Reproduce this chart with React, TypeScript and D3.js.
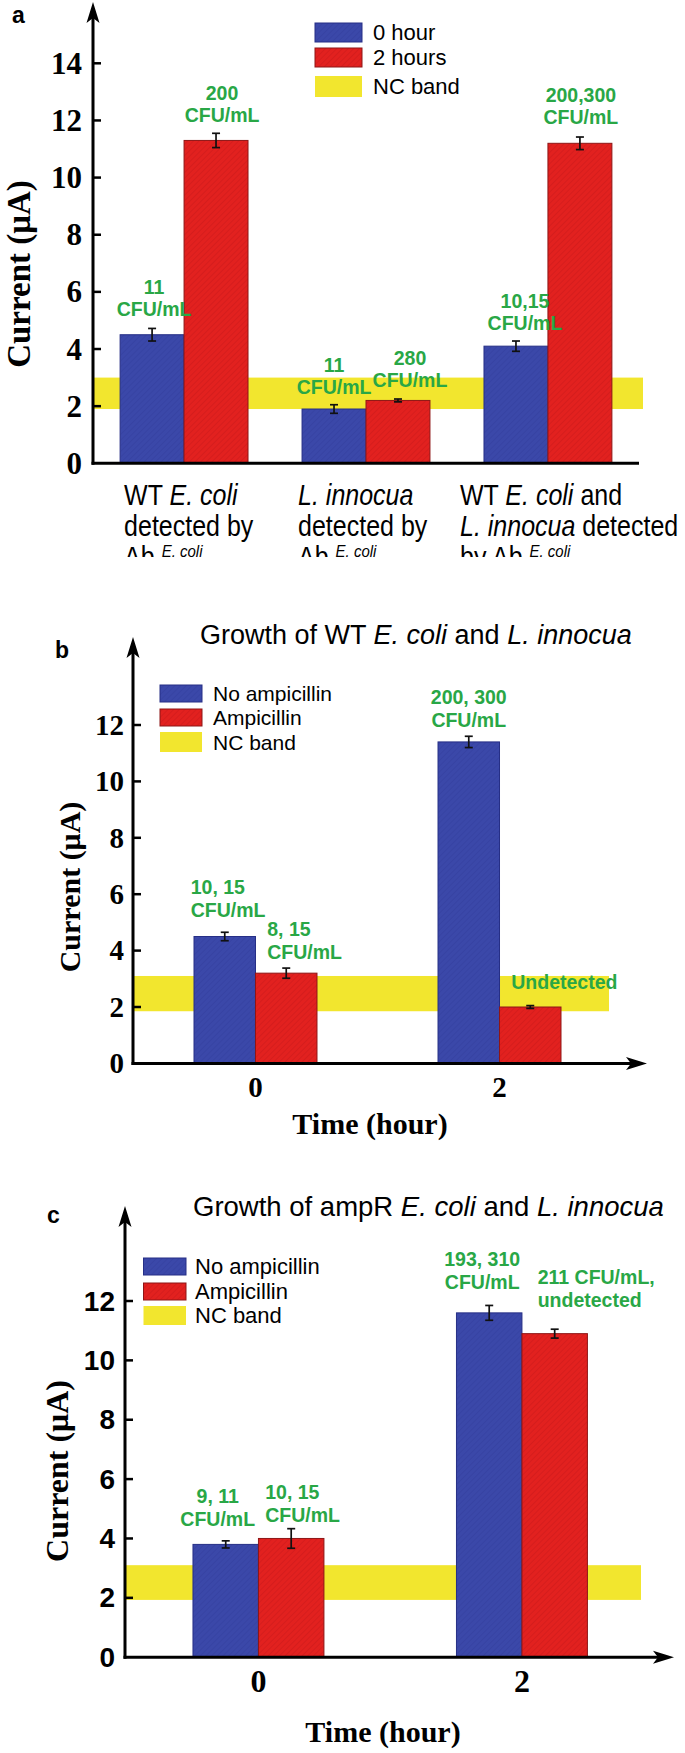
import React from "react";
import * as d3 from "d3";

const SANS = "Arial, 'Liberation Sans', Helvetica, sans-serif";
const SERIF = "'Times New Roman', 'Liberation Serif', Times, serif";
const GREEN = "#29a746";
const BLUE = "#3b48a9";
const RED = "#e2211f";
const YELLOW = "#f2e62e";

// ---- panel a : detection by Ab E. coli
const groupsA = ["WT E. coli", "L. innocua", "WT E. coli + L. innocua"];
const hour0 = [4.5, 1.9, 4.1];
const hour0Err = [0.22, 0.15, 0.18];
const hour2 = [11.3, 2.2, 11.2];
const hour2Err = [0.25, 0.05, 0.22];
const hour0Cfu = [["11", "CFU/mL"], ["11", "CFU/mL"], ["10,15", "CFU/mL"]];
const hour2Cfu = [["200", "CFU/mL"], ["280", "CFU/mL"], ["200,300", "CFU/mL"]];
const ncBandA = [1.9, 3.0];
const ticksA = [0, 2, 4, 6, 8, 10, 12, 14];
const legendA = ["0 hour", "2 hours", "NC band"];

// ---- panel b : WT E. coli + L. innocua growth
const timesB = ["0", "2"];
const noAmpB = [4.5, 11.4];
const noAmpErrB = [0.15, 0.2];
const ampB = [3.2, 2.0];
const ampErrB = [0.18, 0.05];
const noAmpCfuB = [["10, 15", "CFU/mL"], ["200, 300", "CFU/mL"]];
const ampCfuB = [["8, 15", "CFU/mL"], ["Undetected"]];
const ncBandB = [1.85, 3.1];

// ---- panel c : ampR E. coli + L. innocua growth
const timesC = ["0", "2"];
const noAmpC = [3.8, 11.6];
const noAmpErrC = [0.12, 0.25];
const ampC = [4.0, 10.9];
const ampErrC = [0.33, 0.15];
const noAmpCfuC = [["9, 11", "CFU/mL"], ["193, 310", "CFU/mL"]];
const ampCfuC = [["10, 15", "CFU/mL"], ["211 CFU/mL,", "undetected"]];
const ncBandC = [1.93, 3.1];

const ticksBC = [0, 2, 4, 6, 8, 10, 12];
const legendBC = ["No ampicillin", "Ampicillin", "NC band"];

type Seg = { t: string; i?: boolean; sup?: boolean };
type LabelPos = { anchor: "start" | "middle"; dx: number; lift: number };
type Series = { values: number[]; errs: number[]; fill: string; stroke: string; cfu: string[][]; pos: LabelPos[] };

const catLinesA: Seg[][][] = [
  [[{ t: "WT " }, { t: "E. coli", i: true }], [{ t: "detected by" }], [{ t: "Ab " }, { t: "E. coli", i: true, sup: true }]],
  [[{ t: "L. innocua", i: true }], [{ t: "detected by" }], [{ t: "Ab " }, { t: "E. coli", i: true, sup: true }]],
  [
    [{ t: "WT " }, { t: "E. coli", i: true }, { t: " and" }],
    [{ t: "L. innocua", i: true }, { t: " detected" }],
    [{ t: "by Ab " }, { t: "E. coli", i: true, sup: true }],
  ],
];

const segs = (list: Seg[]) =>
  list.map((s, k) => (
    <tspan key={k} fontStyle={s.i ? "italic" : undefined} fontSize={s.sup ? 15 : undefined} dy={s.sup ? -9 : undefined}>
      {s.t}
    </tspan>
  ));

const upArrow = (x: number, tip: number) => `M${x},${tip} L${x + 6.5},${tip + 21} L${x},${tip + 16} L${x - 6.5},${tip + 21} Z`;
const rightArrow = (tip: number, y: number) => `M${tip},${y} L${tip - 21},${y - 6.5} L${tip - 16},${y} L${tip - 21},${y + 6.5} Z`;

function Panel(p: any) {
  const y = d3.scaleLinear().domain([0, p.yMax]).range([p.y0, p.yTopPx]);
  const x = d3.scaleBand().domain(p.groups).range(p.xRange).paddingInner(p.padIn).paddingOuter(p.padOut);
  const xs = d3
    .scaleBand()
    .domain(p.series.map((s: Series, i: number) => String(i)))
    .range([0, x.bandwidth()]);
  const bw = xs.bandwidth();
  const lg = p.legend;

  return (
    <g>
      {/* NC band */}
      <rect x={p.axisX} y={y(p.nc[1])} width={p.ncEnd - p.axisX} height={y(p.nc[0]) - y(p.nc[1])} fill={YELLOW} />

      {/* bars */}
      {p.series.map((s: Series, i: number) =>
        p.groups.map((g: string, j: number) => {
          const bx = (x(g) as number) + (xs(String(i)) as number);
          return (
            <rect key={`b${i}${j}`} x={bx} y={y(s.values[j])} width={bw} height={p.y0 - y(s.values[j])}
              fill={s.fill} stroke={s.stroke} strokeWidth={1} />
          );
        })
      )}

      {/* error bars */}
      {p.series.map((s: Series, i: number) =>
        p.groups.map((g: string, j: number) => {
          const cx = (x(g) as number) + (xs(String(i)) as number) + bw / 2;
          const lo = y(s.values[j] - s.errs[j]);
          const hi = y(s.values[j] + s.errs[j]);
          return (
            <g key={`e${i}${j}`} stroke="#111" strokeWidth={1.7}>
              <line x1={cx} x2={cx} y1={lo} y2={hi} />
              <line x1={cx - 4} x2={cx + 4} y1={lo} y2={lo} />
              <line x1={cx - 4} x2={cx + 4} y1={hi} y2={hi} />
            </g>
          );
        })
      )}

      {/* CFU annotations */}
      {p.series.map((s: Series, i: number) =>
        p.groups.map((g: string, j: number) => {
          const cx = (x(g) as number) + (xs(String(i)) as number) + bw / 2;
          const pos = s.pos[j];
          const last = y(s.values[j] + s.errs[j]) - pos.lift + 7;
          const lines = s.cfu[j];
          return (
            <text key={`t${i}${j}`} fontFamily={SANS} fontWeight="bold" fontSize={19.5} fill={GREEN} textAnchor={pos.anchor}>
              {lines.map((ln, k) => (
                <tspan key={k} x={cx + pos.dx} y={last - (lines.length - 1 - k) * p.lineGap}>
                  {ln}
                </tspan>
              ))}
            </text>
          );
        })
      )}

      {/* axes */}
      <line x1={p.axisX} x2={p.axisX} y1={p.y0 + 1.5} y2={p.arrowTip + 12} stroke="#000" strokeWidth={3} />
      <path d={upArrow(p.axisX, p.arrowTip)} fill="#000" />
      <line x1={p.axisX - 1.5} x2={p.xArrow ? p.xEnd - 12 : p.xEnd} y1={p.y0} y2={p.y0} stroke="#000" strokeWidth={3} />
      {p.xArrow && <path d={rightArrow(p.xEnd, p.y0)} fill="#000" />}

      {p.ticks.map((t: number) => (
        <g key={t}>
          {t > 0 && <line x1={p.axisX} x2={p.axisX + 8} y1={y(t)} y2={y(t)} stroke="#000" strokeWidth={2.5} />}
          <text x={p.axisX - p.tickGap} y={y(t) + p.tickSize * 0.34} textAnchor="end" fontFamily={p.tickFont}
            fontWeight="bold" fontSize={p.tickSize}>
            {t}
          </text>
        </g>
      ))}

      <text transform={`translate(${p.yTitleX},${p.yTitleY}) rotate(-90)`} textAnchor="middle" fontFamily={SERIF}
        fontWeight="bold" fontSize={p.yTitleSize}>
        Current (μA)
      </text>

      <text x={p.letterX} y={p.letterY} fontFamily={SANS} fontWeight="bold" fontSize={23}>
        {p.letter}
      </text>

      {p.title && (
        <text x={p.title.x} y={p.title.y} fontFamily={SANS} fontSize={p.title.size}>
          {segs(p.title.segs)}
        </text>
      )}

      {/* legend */}
      {lg.labels.map((l: string, k: number) => (
        <g key={l}>
          <rect x={lg.x} y={lg.tops[k]} width={lg.w} height={lg.hs[k]} fill={lg.fills[k]}
            stroke={lg.strokes[k]} strokeWidth={k < 2 ? 1 : 0} />
          <text x={lg.textX} y={lg.tops[k] + lg.hs[k] / 2 + lg.size * 0.36} fontFamily={SANS} fontSize={lg.size}>
            {l}
          </text>
        </g>
      ))}

      {p.xTicks &&
        p.groups.map((g: string) => (
          <text key={g} x={(x(g) as number) + x.bandwidth() / 2} y={p.xTicks.baseline} textAnchor="middle"
            fontFamily={SERIF} fontWeight="bold" fontSize={p.xTicks.size}>
            {g}
          </text>
        ))}

      {p.xTitle && (
        <text x={p.xTitle.x} y={p.xTitle.y} textAnchor="middle" fontFamily={SERIF} fontWeight="bold" fontSize={p.xTitle.size}>
          Time (hour)
        </text>
      )}

      {p.cats && (
        <g clipPath="url(#clipA)" fontFamily={SANS} fontSize={p.cats.size}>
          {p.cats.lines.map((lines: Seg[][], j: number) =>
            lines.map((ln, k) => (
              <text key={`c${j}${k}`}
                transform={`translate(${(x(p.groups[j]) as number) + p.cats.dx[j]},${p.cats.baselines[k]}) scale(1,1.15)`}>
                {segs(ln)}
              </text>
            ))
          )}
        </g>
      )}
    </g>
  );
}

export default function App() {
  const fills = ["url(#hatchBlue)", "url(#hatchRed)", YELLOW];
  const strokes = ["#262f86", "#8e1616", "none"];

  const panelA = {
    letter: "a", letterX: 12, letterY: 23,
    axisX: 93, y0: 463.3, yTopPx: 63.3, yMax: 14, ticks: ticksA, arrowTip: 2,
    groups: groupsA, xRange: [93, 639], padIn: 0.297, padOut: 0.149, xEnd: 639, xArrow: false,
    nc: ncBandA, ncEnd: 643,
    tickFont: SERIF, tickSize: 31, tickGap: 11,
    yTitleX: 30, yTitleY: 274, yTitleSize: 33,
    lineGap: 22,
    series: [
      { values: hour0, errs: hour0Err, fill: fills[0], stroke: strokes[0], cfu: hour0Cfu,
        pos: [{ anchor: "middle", dx: 2, lift: 19 }, { anchor: "middle", dx: 0, lift: 18 }, { anchor: "middle", dx: 9, lift: 18 }] },
      { values: hour2, errs: hour2Err, fill: fills[1], stroke: strokes[1], cfu: hour2Cfu,
        pos: [{ anchor: "middle", dx: 6, lift: 18 }, { anchor: "middle", dx: 12, lift: 19 }, { anchor: "middle", dx: 1, lift: 20 }] },
    ],
    legend: { labels: legendA, x: 315, w: 47, tops: [23, 48, 76], hs: [19, 19, 21], textX: 373, size: 22, fills, strokes },
    cats: { lines: catLinesA, dx: [4, -4, -24], baselines: [505, 536, 567], size: 25 },
  };

  const panelB = {
    letter: "b", letterX: 55, letterY: 658,
    axisX: 133, y0: 1063.4, yTopPx: 725, yMax: 12, ticks: ticksBC, arrowTip: 637,
    groups: timesB, xRange: [133, 622], padIn: 0.496, padOut: 0.25, xEnd: 647, xArrow: true,
    nc: ncBandB, ncEnd: 609,
    tickFont: SERIF, tickSize: 29, tickGap: 9,
    yTitleX: 80, yTitleY: 887, yTitleSize: 30,
    lineGap: 23,
    series: [
      { values: noAmpB, errs: noAmpErrB, fill: fills[0], stroke: strokes[0], cfu: noAmpCfuB,
        pos: [{ anchor: "start", dx: -34, lift: 22 }, { anchor: "middle", dx: 0, lift: 16 }] },
      { values: ampB, errs: ampErrB, fill: fills[1], stroke: strokes[1], cfu: ampCfuB,
        pos: [{ anchor: "start", dx: -19, lift: 16 }, { anchor: "start", dx: -19, lift: 24 }] },
    ],
    legend: { labels: legendBC, x: 160, w: 42, tops: [685, 709, 732], hs: [17, 17, 20], textX: 213, size: 21, fills, strokes },
    title: { x: 200, y: 644, size: 27, segs: [{ t: "Growth of WT " }, { t: "E. coli", i: true }, { t: " and " }, { t: "L. innocua", i: true }] },
    xTicks: { size: 29, baseline: 1097 },
    xTitle: { x: 370, y: 1134, size: 30 },
  };

  const panelC = {
    letter: "c", letterX: 47, letterY: 1223,
    axisX: 125, y0: 1657.2, yTopPx: 1301, yMax: 12, ticks: ticksBC, arrowTip: 1206,
    groups: timesC, xRange: [125, 655.4], padIn: 0.503, padOut: 0.258, xEnd: 674, xArrow: true,
    nc: ncBandC, ncEnd: 641,
    tickFont: SANS, tickSize: 28, tickGap: 10,
    yTitleX: 68, yTitleY: 1471, yTitleSize: 32,
    lineGap: 23,
    series: [
      { values: noAmpC, errs: noAmpErrC, fill: fills[0], stroke: strokes[0], cfu: noAmpCfuC,
        pos: [{ anchor: "middle", dx: -8, lift: 22 }, { anchor: "middle", dx: -7, lift: 23 }] },
      { values: ampC, errs: ampErrC, fill: fills[1], stroke: strokes[1], cfu: ampCfuC,
        pos: [{ anchor: "start", dx: -26, lift: 14 }, { anchor: "start", dx: -17, lift: 29 }] },
    ],
    legend: { labels: legendBC, x: 143.5, w: 42.5, tops: [1258, 1283, 1306], hs: [17, 17, 19], textX: 195, size: 22, fills, strokes },
    title: { x: 193, y: 1216, size: 27.5, segs: [{ t: "Growth of ampR " }, { t: "E. coli", i: true }, { t: " and " }, { t: "L. innocua", i: true }] },
    xTicks: { size: 32, baseline: 1692 },
    xTitle: { x: 383, y: 1742, size: 30 },
  };

  return (
    <svg width={685} height={1753} style={{ position: "absolute", left: 0, top: 0, background: "#fff" }}>
      <defs>
        <pattern id="hatchBlue" patternUnits="userSpaceOnUse" width={4} height={4} patternTransform="rotate(45)">
          <rect width={4} height={4} fill={BLUE} />
          <line x1={0} y1={0} x2={0} y2={4} stroke="#3540a0" strokeWidth={1.4} />
        </pattern>
        <pattern id="hatchRed" patternUnits="userSpaceOnUse" width={4} height={4} patternTransform="rotate(45)">
          <rect width={4} height={4} fill={RED} />
          <line x1={0} y1={0} x2={0} y2={4} stroke="#d01b1c" strokeWidth={1.4} />
        </pattern>
        <clipPath id="clipA">
          <rect x={0} y={0} width={685} height={557} />
        </clipPath>
      </defs>
      <rect width={685} height={1753} fill="#fff" />
      <Panel {...panelA} />
      <Panel {...panelB} />
      <Panel {...panelC} />
    </svg>
  );
}
